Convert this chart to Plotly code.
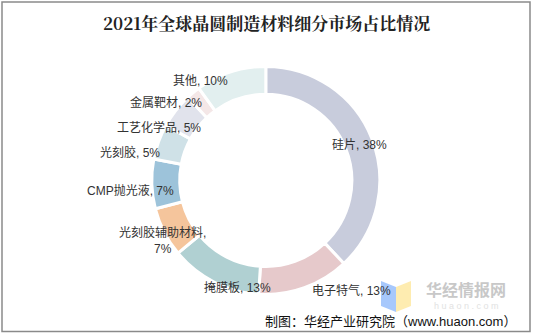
import plotly.graph_objects as go

categories = ["硅片", "电子特气", "掩膜板", "光刻胶辅助材料", "CMP抛光液", "光刻胶", "工艺化学品", "金属靶材", "其他"]
shares = [38, 13, 13, 7, 7, 5, 5, 2, 10]
colors = ["#C8CCDC", "#E6C9CB", "#B0D0D2", "#F5C59C", "#9DC3DA", "#CFE1E7", "#E1E3EC", "#F4E7E7", "#E2EFEF"]

W, H = 533, 335
cx, cy, R = 265.8, 180.4, 114

# label anchor positions in pixels (x, y, xanchor)
label_pos = [
    (359, 145, "center"),
    (351, 290, "center"),
    (237, 288, "center"),
    (162, 240, "center"),
    (130, 190, "center"),
    (130, 152, "center"),
    (159, 128, "center"),
    (166, 102, "center"),
    (200, 81, "center"),
]

def px(x):
    return x / W

def py(y):
    return 1 - y / H

fig = go.Figure()
fig.add_trace(go.Pie(
    labels=categories,
    values=shares,
    sort=False,
    direction="clockwise",
    rotation=0,
    hole=0.755,
    marker=dict(colors=colors, line=dict(color="white", width=3)),
    textinfo="none",
    hoverinfo="label+percent",
    showlegend=False,
    domain=dict(x=[px(cx - R), px(cx + R)], y=[py(cy + R), py(cy - R)]),
))

font_lbl = dict(family="Liberation Sans, Arial, Noto Sans CJK SC, sans-serif", size=12, color="#333333")
annotations = []
for name, v, (x, y, xa) in zip(categories, shares, label_pos):
    if name == "光刻胶辅助材料":
        text = f"{name},<br>{v}%"
    else:
        text = f"{name}, {v}%"
    annotations.append(dict(x=px(x), y=py(y), xref="paper", yref="paper", text=text,
                            showarrow=False, xanchor=xa, yanchor="middle", font=font_lbl,
                            align="center"))

# title
annotations.append(dict(x=px(266), y=py(22), xref="paper", yref="paper",
                        text="<b>2021年全球晶圆制造材料细分市场占比情况</b>", showarrow=False,
                        xanchor="center", yanchor="middle",
                        font=dict(family="Noto Serif CJK SC, Noto Sans CJK SC, serif", size=17, color="#222222")))
# watermark
annotations.append(dict(x=px(466), y=py(289), xref="paper", yref="paper", text="<b>华经情报网</b>",
                        showarrow=False, xanchor="center", yanchor="middle", borderpad=0,
                        font=dict(family="Noto Sans CJK SC, sans-serif", size=16, color="#C8C8C8")))
annotations.append(dict(x=px(466), y=py(306), xref="paper", yref="paper", text="h u a o n . c o m",
                        showarrow=False, xanchor="center", yanchor="middle", borderpad=0,
                        font=dict(family="Liberation Sans, sans-serif", size=9, color="#E2E2E2")))
# source
annotations.append(dict(x=px(518), y=py(321), xref="paper", yref="paper",
                        text="制图：华经产业研究院（www.huaon.com）", showarrow=False,
                        xanchor="right", yanchor="middle",
                        font=dict(family="Liberation Sans, Noto Sans CJK SC, sans-serif", size=13, color="#111111")))

shapes = [
    dict(type="rect", xref="paper", yref="paper", x0=px(2), y0=py(331.5), x1=px(530), y1=py(2),
         line=dict(color="#8A8A8A", width=1.5), fillcolor="rgba(0,0,0,0)", layer="above"),
    dict(type="path", xref="paper", yref="paper",
         path=f"M {px(381)},{py(281)} L {px(396)},{py(287)} L {px(396)},{py(312)} L {px(381)},{py(306)} Z",
         fillcolor="rgba(120,170,250,0.65)", line=dict(width=0), layer="above"),
    dict(type="path", xref="paper", yref="paper",
         path=f"M {px(396)},{py(287)} L {px(411)},{py(281)} L {px(411)},{py(306)} L {px(396)},{py(312)} Z",
         fillcolor="rgba(253,230,150,0.75)", line=dict(width=0), layer="above"),
]

fig.update_layout(
    width=W, height=H,
    margin=dict(l=0, r=0, t=0, b=0),
    paper_bgcolor="white",
    plot_bgcolor="white",
    annotations=annotations,
    shapes=shapes,
)

fig.write_html("out.html")
